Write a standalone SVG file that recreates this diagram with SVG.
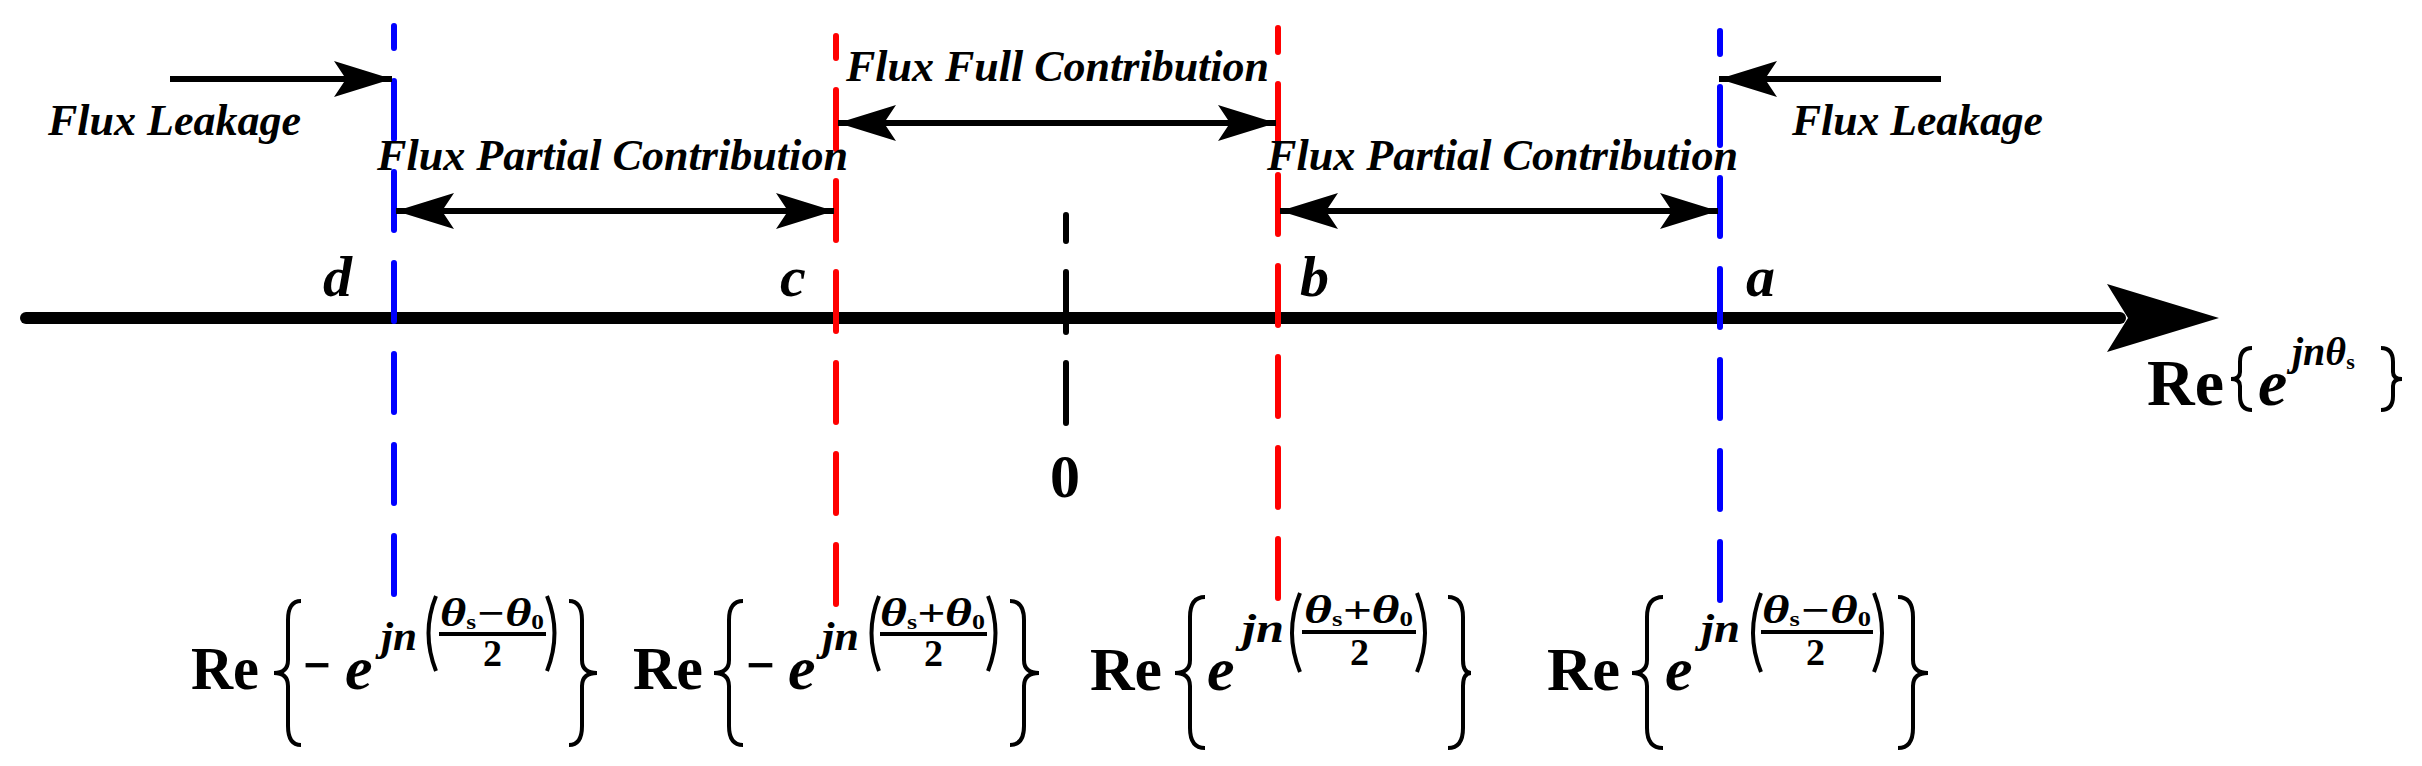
<svg xmlns="http://www.w3.org/2000/svg" width="2422" height="766" viewBox="0 0 2422 766">
<defs>
<style>
.lbl{font-family:"Liberation Serif",serif;font-weight:bold;font-style:italic;font-size:44px;fill:#000}
.pt{font-family:"Liberation Serif",serif;font-weight:bold;font-style:italic;font-size:58px;fill:#000}
.rm{font-family:"Liberation Serif",serif;font-weight:bold;font-size:62px;fill:#000}
.it{font-family:"Liberation Serif",serif;font-weight:bold;font-style:italic;font-size:62px;fill:#000}
.sup{font-family:"Liberation Serif",serif;font-weight:bold;font-style:italic;font-size:40px;fill:#000}
.num{font-family:"Liberation Serif",serif;font-weight:bold;font-size:38px;fill:#000}
.br{fill:none;stroke:#000;stroke-width:4}
.blue{stroke:#0000ff;stroke-width:6;stroke-dasharray:58 33;stroke-linecap:round}
.red{stroke:#ff0000;stroke-width:6;stroke-dasharray:59 32;stroke-linecap:round}
.blk{stroke:#000;stroke-width:6;stroke-dasharray:60 31;stroke-linecap:round}
.arr{stroke:#000;stroke-width:6;fill:none}
</style>
<marker id="ah" markerUnits="userSpaceOnUse" markerWidth="70" markerHeight="40" viewBox="-60 -20 62 40" refX="0" refY="0" orient="auto-start-reverse">
<path d="M0,0 L-58,-18 L-46,0 L-58,18 Z" fill="#000"/>
</marker>
</defs>
<g id="axis">
<line x1="26" y1="318" x2="2120" y2="318" stroke="#000" stroke-width="12" stroke-linecap="round"/>
<path d="M2219,318 L2107,284 L2128,318 L2107,352 Z" fill="#000"/>
</g>
<g id="lines">
<line id="line-d" class="blue" x1="394" y1="26" x2="394" y2="595" stroke-dashoffset="36"/>
<line id="line-c" class="red" x1="836" y1="36" x2="836" y2="606" stroke-dashoffset="37"/>
<line id="line-0" class="blk" x1="1066" y1="215" x2="1066" y2="424" stroke-dashoffset="34"/>
<line id="line-b" class="red" x1="1278" y1="28" x2="1278" y2="600" stroke-dashoffset="35"/>
<line id="line-a" class="blue" x1="1720" y1="31" x2="1720" y2="603" stroke-dashoffset="35"/>
</g>
<g id="connectors">
<line class="arr" x1="170" y1="79" x2="392" y2="79" marker-end="url(#ah)"/>
<line class="arr" x1="1941" y1="79" x2="1719" y2="79" marker-end="url(#ah)"/>
<line class="arr" x1="838" y1="123" x2="1276" y2="123" marker-start="url(#ah)" marker-end="url(#ah)"/>
<line class="arr" x1="396" y1="211" x2="834" y2="211" marker-start="url(#ah)" marker-end="url(#ah)"/>
<line class="arr" x1="1280" y1="211" x2="1718" y2="211" marker-start="url(#ah)" marker-end="url(#ah)"/>
</g>
<g id="labels">
<text class="lbl" x="48" y="135" textLength="253" lengthAdjust="spacingAndGlyphs">Flux Leakage</text>
<text class="lbl" x="1792" y="135" textLength="251" lengthAdjust="spacingAndGlyphs">Flux Leakage</text>
<text class="lbl" x="377" y="170" textLength="471" lengthAdjust="spacingAndGlyphs">Flux Partial Contribution</text>
<text class="lbl" x="1267" y="170" textLength="471" lengthAdjust="spacingAndGlyphs">Flux Partial Contribution</text>
<text class="lbl" x="846" y="81" textLength="423" lengthAdjust="spacingAndGlyphs">Flux Full Contribution</text>
<text class="pt" x="323" y="296">d</text>
<text class="pt" x="780" y="296">c</text>
<text class="pt" x="1300" y="296">b</text>
<text class="pt" x="1746" y="296">a</text>
<text class="rm" x="1050" y="497" textLength="30" lengthAdjust="spacingAndGlyphs">0</text>
</g>
<g id="axis-label">
<text class="rm" x="2147" y="405" style="font-size:66px">Re</text>
<path class="br" d="M2252,348 Q2240,348 2240,362 L2240,372 Q2240,379 2231,379 Q2240,379 2240,386 L2240,396 Q2240,410 2252,410"/>
<text class="it" x="2258" y="405" style="font-size:66px">e</text>
<text class="sup" x="2292" y="365" style="font-size:40px">jnθ<tspan style="font-size:22px;font-style:normal" dy="4">s</tspan></text>
<path class="br" d="M2381,348 Q2393,348 2393,362 L2393,372 Q2393,379 2402,379 Q2393,379 2393,386 L2393,396 Q2393,410 2381,410"/>
</g>
<g id="f-d">
<text class="rm" x="191" y="689" textLength="68" lengthAdjust="spacingAndGlyphs">Re</text>
<path class="br" d="M301,601 Q288,601 288,620 L288,660 Q288,673 274,673 Q288,673 288,686 L288,726 Q288,745 301,745"/>
<text class="rm" x="303" y="686" textLength="28" lengthAdjust="spacingAndGlyphs">−</text>
<text class="it" x="345" y="689">e</text>
<text class="sup" x="381" y="650" textLength="36" lengthAdjust="spacingAndGlyphs">jn</text>
<path class="br" d="M436,596 Q421,633 436,671"/>
<text class="sup" x="440" y="626" textLength="104" lengthAdjust="spacingAndGlyphs">θ<tspan style="font-size:20px;font-style:normal" dy="3">s</tspan><tspan class="num" dy="-3">−</tspan>θ<tspan style="font-size:20px;font-style:normal" dy="3">0</tspan></text>
<line x1="439" y1="634" x2="546" y2="634" stroke="#000" stroke-width="4"/>
<text class="num" x="483" y="666">2</text>
<path class="br" d="M547,596 Q562,633 547,671"/>
<path class="br" d="M569,601 Q582,601 582,620 L582,660 Q582,673 597,673 Q582,673 582,686 L582,726 Q582,745 569,745"/>
</g>
<g id="f-c">
<text class="rm" x="633" y="689" textLength="70" lengthAdjust="spacingAndGlyphs">Re</text>
<path class="br" d="M743,601 Q729,601 729,620 L729,660 Q729,673 714,673 Q729,673 729,686 L729,726 Q729,745 743,745"/>
<text class="rm" x="746" y="686" textLength="29" lengthAdjust="spacingAndGlyphs">−</text>
<text class="it" x="788" y="689">e</text>
<text class="sup" x="822" y="650" textLength="37" lengthAdjust="spacingAndGlyphs">jn</text>
<path class="br" d="M879,596 Q864,633 879,671"/>
<text class="sup" x="880" y="626" textLength="105" lengthAdjust="spacingAndGlyphs">θ<tspan style="font-size:20px;font-style:normal" dy="3">s</tspan><tspan class="num" dy="-3">+</tspan>θ<tspan style="font-size:20px;font-style:normal" dy="3">0</tspan></text>
<line x1="880" y1="634" x2="987" y2="634" stroke="#000" stroke-width="4"/>
<text class="num" x="924" y="666">2</text>
<path class="br" d="M988,596 Q1003,633 988,671"/>
<path class="br" d="M1010,601 Q1024,601 1024,620 L1024,660 Q1024,673 1039,673 Q1024,673 1024,686 L1024,726 Q1024,745 1010,745"/>
</g>
<g id="f-b">
<text class="rm" x="1090" y="690" textLength="72" lengthAdjust="spacingAndGlyphs">Re</text>
<path class="br" d="M1205,597 Q1190,597 1190,617 L1190,660 Q1190,673 1175,673 Q1190,673 1190,686 L1190,728 Q1190,748 1205,748"/>
<text class="it" x="1207" y="690">e</text>
<text class="sup" x="1242" y="642" textLength="42" lengthAdjust="spacingAndGlyphs">jn</text>
<path class="br" d="M1300,593 Q1284,633 1300,672"/>
<text class="sup" x="1304" y="623" textLength="109" lengthAdjust="spacingAndGlyphs">θ<tspan style="font-size:20px;font-style:normal" dy="3">s</tspan><tspan class="num" dy="-3">+</tspan>θ<tspan style="font-size:20px;font-style:normal" dy="3">0</tspan></text>
<line x1="1302" y1="632" x2="1416" y2="632" stroke="#000" stroke-width="4"/>
<text class="num" x="1350" y="665">2</text>
<path class="br" d="M1417,593 Q1433,633 1417,672"/>
<path class="br" d="M1448,597 Q1463,597 1463,617 L1463,660 Q1463,673 1471,673 Q1463,673 1463,686 L1463,728 Q1463,748 1448,748"/>
</g>
<g id="f-a">
<text class="rm" x="1547" y="690" textLength="73" lengthAdjust="spacingAndGlyphs">Re</text>
<path class="br" d="M1663,597 Q1647,597 1647,617 L1647,660 Q1647,673 1632,673 Q1647,673 1647,686 L1647,728 Q1647,748 1663,748"/>
<text class="it" x="1665" y="690">e</text>
<text class="sup" x="1701" y="642" textLength="39" lengthAdjust="spacingAndGlyphs">jn</text>
<path class="br" d="M1761,593 Q1745,633 1761,672"/>
<text class="sup" x="1762" y="623" textLength="109" lengthAdjust="spacingAndGlyphs">θ<tspan style="font-size:20px;font-style:normal" dy="3">s</tspan><tspan class="num" dy="-3">−</tspan>θ<tspan style="font-size:20px;font-style:normal" dy="3">0</tspan></text>
<line x1="1761" y1="632" x2="1873" y2="632" stroke="#000" stroke-width="4"/>
<text class="num" x="1806" y="665">2</text>
<path class="br" d="M1874,593 Q1890,633 1874,672"/>
<path class="br" d="M1898,597 Q1913,597 1913,617 L1913,660 Q1913,673 1928,673 Q1913,673 1913,686 L1913,728 Q1913,748 1898,748"/>
</g>
</svg>
